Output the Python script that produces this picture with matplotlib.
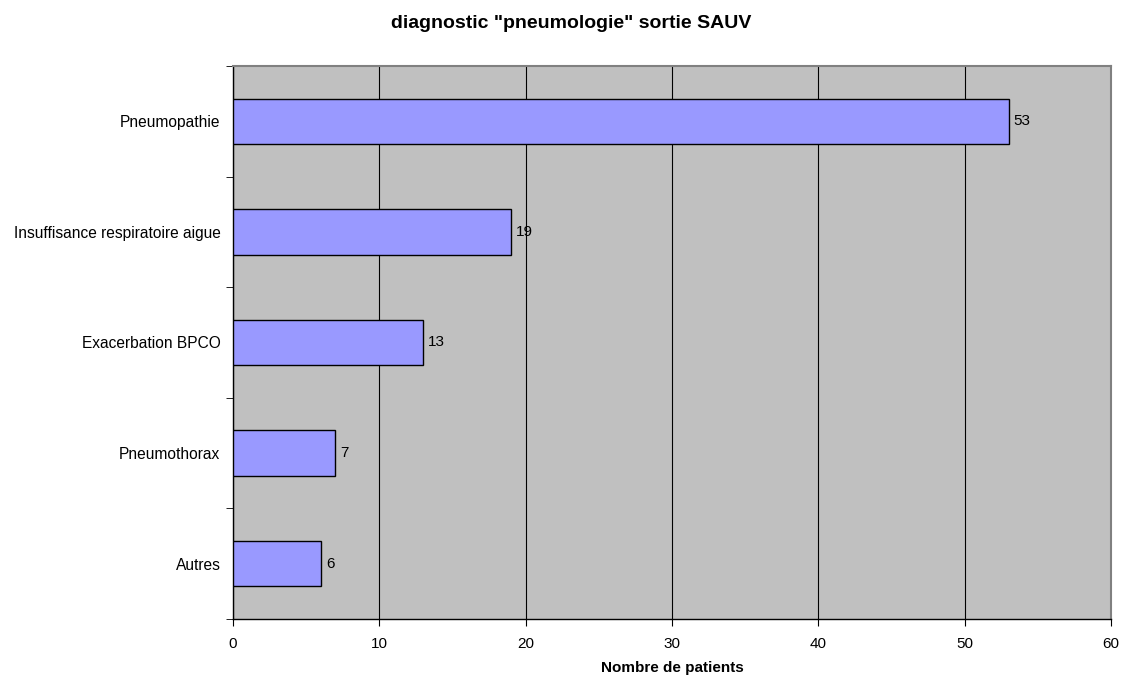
import numpy as np
import matplotlib.pyplot as plt

plt.rcParams['font.family'] = ['Liberation Sans', 'DejaVu Sans']

categories = ['Pneumopathie', 'Insuffisance respiratoire aigue', 'Exacerbation BPCO',
              'Pneumothorax', 'Autres']
values = [53, 19, 13, 7, 6]

fig = plt.figure(figsize=(11.21, 6.75), dpi=100)
ax = fig.add_axes([233/1121, 1-619/675, 878/1121, 553/675])
ax.set_facecolor('#C0C0C0')

y = np.arange(len(categories))
ax.barh(y, values, height=0.41, color='#9999FF', edgecolor='black', linewidth=1.0, zorder=3)
for yi, v in zip(y, values):
    ax.text(v + 0.35, yi, str(v), va='center', ha='left', fontsize=11, zorder=4)

ax.set_xlim(0, 60)
ax.set_ylim(len(categories) - 0.5, -0.5)
ax.set_xticks(np.arange(0, 61, 10))
ax.set_yticks(y)
ax.set_yticklabels(categories, fontsize=11.2)
ax.set_yticks(np.arange(-0.5, len(categories), 1), minor=True)
ax.tick_params(axis='y', which='major', length=0, pad=9)
ax.tick_params(axis='y', which='minor', length=5, direction='out', color='black')
ax.tick_params(axis='x', length=5, direction='out', labelsize=11, pad=8)
ax.xaxis.grid(True, color='black', linewidth=0.8, zorder=1)
ax.set_axisbelow(True)

for side in ['top', 'right']:
    ax.spines[side].set_color('#808080')
    ax.spines[side].set_linewidth(1.5)
for side in ['left', 'bottom']:
    ax.spines[side].set_color('black')
    ax.spines[side].set_linewidth(1.0)

fig.text(571/1121, 1-24/675, 'diagnostic "pneumologie" sortie SAUV', ha='center', va='center',
         fontsize=14, fontweight='bold')
fig.text(672/1121, 1-668/675, 'Nombre de patients', ha='center', va='center',
         fontsize=11, fontweight='bold')

fig.savefig('out.png', dpi=100)
